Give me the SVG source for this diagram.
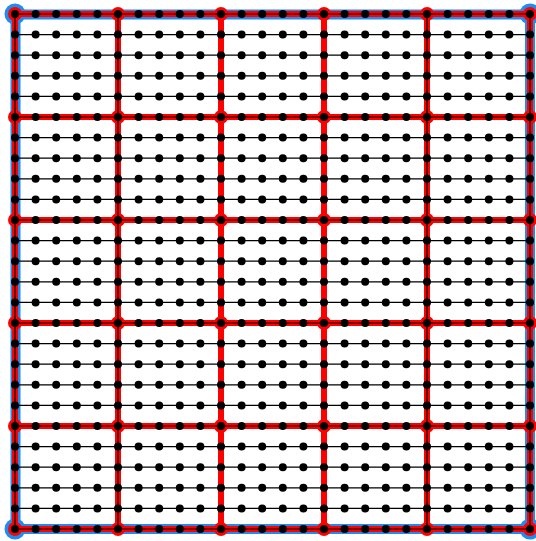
<svg xmlns="http://www.w3.org/2000/svg" width="536" height="541" viewBox="0 0 536 541">
<style>
.blue{fill:none;stroke:#1e8cf0;stroke-width:10}
.bc{fill:#1e8cf0}
.red{fill:none;stroke:#ff0000;stroke-width:6}
.rn{fill:#ff0000}
.thin{fill:none;stroke:#000;stroke-width:1.2}
.dots circle{fill:#000}
</style>
<rect x="0" y="0" width="536" height="541" fill="#fff"/>
<g id="border">
<rect class="blue" x="15.5" y="14.5" width="514.5" height="514.5" rx="7"/>
<circle class="bc" cx="15" cy="14" r="10.5"/>
<circle class="bc" cx="530" cy="14" r="10.5"/>
<circle class="bc" cx="15" cy="529" r="10.5"/>
<circle class="bc" cx="530" cy="529" r="10.5"/>
</g>
<g id="connectors">
<path class="red" d="M15 14H530M15 117H530M15 220H530M15 323H530M15 426H530M15 529H530M15 14V529M118 14V529M221 14V529M324 14V529M427 14V529M530 14V529"/>
<g id="red-nodes">
<g transform="translate(0,14)"><circle class="rn" cx="15" r="7"/><circle class="rn" cx="118" r="7"/><circle class="rn" cx="221" r="7"/><circle class="rn" cx="324" r="7"/><circle class="rn" cx="427" r="7"/><circle class="rn" cx="530" r="7"/></g>
<g transform="translate(0,117)"><circle class="rn" cx="15" r="7"/><circle class="rn" cx="118" r="7"/><circle class="rn" cx="221" r="7"/><circle class="rn" cx="324" r="7"/><circle class="rn" cx="427" r="7"/><circle class="rn" cx="530" r="7"/></g>
<g transform="translate(0,220)"><circle class="rn" cx="15" r="7"/><circle class="rn" cx="118" r="7"/><circle class="rn" cx="221" r="7"/><circle class="rn" cx="324" r="7"/><circle class="rn" cx="427" r="7"/><circle class="rn" cx="530" r="7"/></g>
<g transform="translate(0,323)"><circle class="rn" cx="15" r="7"/><circle class="rn" cx="118" r="7"/><circle class="rn" cx="221" r="7"/><circle class="rn" cx="324" r="7"/><circle class="rn" cx="427" r="7"/><circle class="rn" cx="530" r="7"/></g>
<g transform="translate(0,426)"><circle class="rn" cx="15" r="7"/><circle class="rn" cx="118" r="7"/><circle class="rn" cx="221" r="7"/><circle class="rn" cx="324" r="7"/><circle class="rn" cx="427" r="7"/><circle class="rn" cx="530" r="7"/></g>
<g transform="translate(0,529)"><circle class="rn" cx="15" r="7"/><circle class="rn" cx="118" r="7"/><circle class="rn" cx="221" r="7"/><circle class="rn" cx="324" r="7"/><circle class="rn" cx="427" r="7"/><circle class="rn" cx="530" r="7"/></g>
</g>
<path class="thin" d="M15 14H530M15 34.6H530M15 55.2H530M15 75.8H530M15 96.4H530M15 117H530M15 137.6H530M15 158.2H530M15 178.8H530M15 199.4H530M15 220H530M15 240.6H530M15 261.2H530M15 281.8H530M15 302.4H530M15 323H530M15 343.6H530M15 364.2H530M15 384.8H530M15 405.4H530M15 426H530M15 446.6H530M15 467.2H530M15 487.8H530M15 508.4H530M15 529H530M15 14V529M118 14V529M427 14V529M530 14V529"/>
</g>
<defs><g id="row"><circle cx="15" r="4"/><circle cx="35.6" r="4"/><circle cx="56.2" r="4"/><circle cx="76.8" r="4"/><circle cx="97.4" r="4"/><circle cx="118" r="4"/><circle cx="138.6" r="4"/><circle cx="159.2" r="4"/><circle cx="179.8" r="4"/><circle cx="200.4" r="4"/><circle cx="221" r="4"/><circle cx="241.6" r="4"/><circle cx="262.2" r="4"/><circle cx="282.8" r="4"/><circle cx="303.4" r="4"/><circle cx="324" r="4"/><circle cx="344.6" r="4"/><circle cx="365.2" r="4"/><circle cx="385.8" r="4"/><circle cx="406.4" r="4"/><circle cx="427" r="4"/><circle cx="447.6" r="4"/><circle cx="468.2" r="4"/><circle cx="488.8" r="4"/><circle cx="509.4" r="4"/><circle cx="530" r="4"/></g></defs>
<g id="nodes" class="dots" fill="#000">
<g id="row0"><use href="#row" y="14"/></g>
<g id="row1"><use href="#row" y="34.6"/></g>
<g id="row2"><use href="#row" y="55.2"/></g>
<g id="row3"><use href="#row" y="75.8"/></g>
<g id="row4"><use href="#row" y="96.4"/></g>
<g id="row5"><use href="#row" y="117"/></g>
<g id="row6"><use href="#row" y="137.6"/></g>
<g id="row7"><use href="#row" y="158.2"/></g>
<g id="row8"><use href="#row" y="178.8"/></g>
<g id="row9"><use href="#row" y="199.4"/></g>
<g id="row10"><use href="#row" y="220"/></g>
<g id="row11"><use href="#row" y="240.6"/></g>
<g id="row12"><use href="#row" y="261.2"/></g>
<g id="row13"><use href="#row" y="281.8"/></g>
<g id="row14"><use href="#row" y="302.4"/></g>
<g id="row15"><use href="#row" y="323"/></g>
<g id="row16"><use href="#row" y="343.6"/></g>
<g id="row17"><use href="#row" y="364.2"/></g>
<g id="row18"><use href="#row" y="384.8"/></g>
<g id="row19"><use href="#row" y="405.4"/></g>
<g id="row20"><use href="#row" y="426"/></g>
<g id="row21"><use href="#row" y="446.6"/></g>
<g id="row22"><use href="#row" y="467.2"/></g>
<g id="row23"><use href="#row" y="487.8"/></g>
<g id="row24"><use href="#row" y="508.4"/></g>
<g id="row25"><use href="#row" y="529"/></g>
</g>
</svg>
